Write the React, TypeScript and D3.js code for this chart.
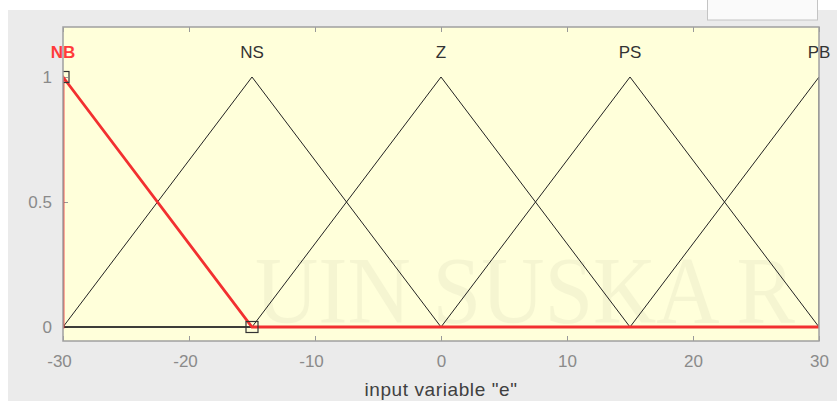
import React, { useEffect, useRef } from 'react';
import * as d3 from 'd3';

// membership functions of input "e" (trimf params)
const mfNames = ['NB', 'NS', 'Z', 'PS', 'PB'];
const mfParams = [
  [-45, -30, -15],
  [-30, -15, 0],
  [-15, 0, 15],
  [0, 15, 30],
  [15, 30, 45],
];
const selectedMf = 0;
const xTicks = [-30, -20, -10, 0, 10, 20, 30];
const yTicks = [0, 0.5, 1];
const xDomain = [-30, 30];
const yDomain = [-0.056, 1.2];

const App = () => {
  const svgRef = useRef<SVGSVGElement>(null);

  useEffect(() => {
    const width = 837;
    const height = 401;
    const margin = { top: 27, left: 63, right: 18, bottom: 60 };
    const innerWidth = width - margin.left - margin.right;
    const innerHeight = height - margin.top - margin.bottom;

    const svg = d3.select(svgRef.current);
    svg.selectAll('*').remove();
    svg.attr('width', width).attr('height', height);

    // figure background
    svg.append('rect').attr('width', width).attr('height', height).attr('fill', '#fff');
    svg.append('rect')
      .attr('x', 8).attr('y', 10)
      .attr('width', width - 8).attr('height', height - 10)
      .attr('fill', '#ebebeb');
    // cut-off box at the top right
    svg.append('rect')
      .attr('x', 707.5).attr('y', -2)
      .attr('width', 110).attr('height', 22)
      .attr('fill', '#fafafa')
      .attr('stroke', '#c4c4c4');

    const x = d3.scaleLinear().domain(xDomain).range([0, innerWidth]);
    const y = d3.scaleLinear().domain(yDomain).range([innerHeight, 0]);

    const chart = svg.append('g')
      .attr('transform', `translate(${margin.left},${margin.top})`);

    svg.append('defs').append('clipPath')
      .attr('id', 'plotclip')
      .append('rect')
      .attr('width', innerWidth)
      .attr('height', innerHeight);

    chart.append('rect')
      .attr('width', innerWidth)
      .attr('height', innerHeight)
      .attr('fill', '#ffffda');

    // faint watermark
    chart.append('text')
      .attr('x', 192)
      .attr('y', 296)
      .attr('font-family', '"Liberation Serif", serif')
      .attr('font-size', 96)
      .attr('textLength', 540)
      .attr('lengthAdjust', 'spacingAndGlyphs')
      .attr('fill', '#000')
      .attr('opacity', 0.035)
      .text('UIN SUSKA R');

    const fontFam = '"Liberation Sans", Arial, sans-serif';

    // x axis bottom + top ticks
    const xb = chart.append('g')
      .attr('transform', `translate(0,${innerHeight})`)
      .call(d3.axisBottom(x).tickValues(xTicks).tickSizeInner(-5).tickSizeOuter(0).tickPadding(14)
        .tickFormat(d => String(d)));
    const xt = chart.append('g')
      .call(d3.axisTop(x).tickValues(xTicks).tickSizeInner(-5).tickSizeOuter(0).tickFormat(() => ''));
    const yl = chart.append('g')
      .call(d3.axisLeft(y).tickValues(yTicks).tickSizeInner(-5).tickSizeOuter(0).tickPadding(11)
        .tickFormat(d => String(d)));

    [xb, xt, yl].forEach(g => {
      g.select('.domain').remove();
      g.selectAll('line').attr('stroke', '#999');
      g.selectAll('text')
        .attr('fill', '#8a8a8a')
        .attr('font-family', fontFam)
        .attr('font-size', 17);
    });
    xb.selectAll('text').attr('dx', d => ((d as number) < 0 ? -4 : 0));

    chart.append('text')
      .attr('x', innerWidth / 2)
      .attr('y', innerHeight + 55)
      .attr('text-anchor', 'middle')
      .attr('font-family', fontFam)
      .attr('font-size', 19)
      .attr('letter-spacing', 0.6)
      .attr('fill', '#404040')
      .text('input variable "e"');

    const line = d3.line<number[]>()
      .x(d => x(d[0]))
      .y(d => y(d[1]));

    const plot = chart.append('g').attr('clip-path', 'url(#plotclip)');

    const mfPoints = (p: number[]) => {
      const out: number[][] = [[xDomain[0], 0], [p[0], 0], [p[1], 1], [p[2], 0], [xDomain[1], 0]];
      return out.sort((a, b) => a[0] - b[0]);
    };

    mfParams.forEach((p, i) => {
      if (i === selectedMf) return;
      plot.append('path')
        .attr('d', line(mfPoints(p)))
        .attr('fill', 'none')
        .attr('stroke', '#222')
        .attr('stroke-width', 1);
    });

    const sel = mfParams[selectedMf];
    plot.append('path')
      .attr('d', line(mfPoints(sel)))
      .attr('fill', 'none')
      .attr('stroke', '#f23030')
      .attr('stroke-width', 2.8);

    // handle squares on the selected mf
    [[sel[1], 1], [sel[2], 0]].forEach(d => {
      plot.append('rect')
        .attr('x', x(d[0]) - 6)
        .attr('y', y(d[1]) - 5.5)
        .attr('width', 12)
        .attr('height', 11)
        .attr('fill', 'none')
        .attr('stroke', '#333')
        .attr('stroke-width', 1.2);
    });

    // mf names above the peaks
    mfParams.forEach((p, i) => {
      chart.append('text')
        .attr('x', x(p[1]))
        .attr('y', y(1) - 19)
        .attr('text-anchor', 'middle')
        .attr('font-family', fontFam)
        .attr('font-size', 17)
        .attr('font-weight', i === selectedMf ? 'bold' : 'normal')
        .attr('fill', i === selectedMf ? '#ff3b3b' : '#333')
        .text(mfNames[i]);
    });

    // axes frame
    chart.append('rect')
      .attr('width', innerWidth)
      .attr('height', innerHeight)
      .attr('fill', 'none')
      .attr('stroke', '#a0a0a0')
      .attr('stroke-width', 1.5);
  }, []);

  return <svg ref={svgRef} style={{ display: 'block', position: 'absolute', left: 0, top: 0 }}></svg>;
};

export default App;
